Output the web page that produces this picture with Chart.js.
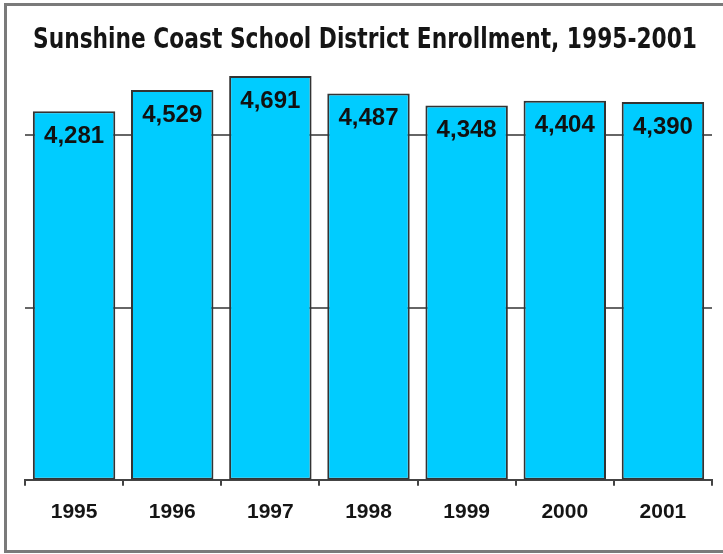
<!DOCTYPE html>
<html>
<head>
<meta charset="utf-8">
<script src="https://cdn.jsdelivr.net/npm/chart.js@4"></script>
<style>
    html, body { margin: 0; padding: 0; background: #fff; }
    #wrap { width: 723px; height: 554px; }
</style>
</head>
<body>
<div id="wrap"><canvas id="EnrollChart" width="723" height="554"></canvas></div>
<script>
const years = ['1995', '1996', '1997', '1998', '1999', '2000', '2001'];
const enrollment = [4281, 4529, 4691, 4487, 4348, 4404, 4390];
const gridValues = [2000, 4000];
const chartTitle = 'Sunshine Coast School District Enrollment, 1995-2001';

// white background + grey frame
const frame = {
    id: 'frame',
    beforeDraw(chart) {
        const c = chart.ctx;
        c.save();
        c.fillStyle = '#fff';
        c.fillRect(0, 0, chart.width, chart.height);
        c.strokeStyle = '#7a7a7a';
        c.lineWidth = 3;
        c.strokeRect(5.5, 4.5, 760, 547);
        c.restore();
    }
};

// title, squeezed to the width it has in the original
const titleText = {
    id: 'titleText',
    afterDraw(chart) {
        const c = chart.ctx;
        c.save();
        c.font = 'bold 28px "Liberation Sans Narrow", "Arial Narrow", "DejaVu Sans Condensed", sans-serif';
        c.fillStyle = '#151515';
        c.textAlign = 'center';
        c.textBaseline = 'alphabetic';
        c.fillText(chartTitle, 365, 48, 664);
        c.restore();
    }
};

// numbers written inside the top of each bar
const barValues = {
    id: 'barValues',
    afterDatasetsDraw(chart) {
        const c = chart.ctx;
        const meta = chart.getDatasetMeta(0);
        c.save();
        c.font = 'bold 24px "Liberation Sans", Arial, sans-serif';
        c.fillStyle = '#111';
        c.textAlign = 'center';
        c.textBaseline = 'middle';
        meta.data.forEach((bar, i) => {
            c.fillText(enrollment[i].toLocaleString('en-US'), bar.x, bar.y + 25);
        });
        c.restore();
    }
};

const ctx = document.getElementById('EnrollChart');
new Chart(ctx, {
    type: 'bar',
    data: {
        labels: years,
        datasets: [{
            label: 'Enrollment',
            data: enrollment,
            backgroundColor: '#00ccff',
            borderColor: '#333',
            borderWidth: 2,
            borderSkipped: false,
            barPercentage: 0.84,
            categoryPercentage: 1
        }]
    },
    options: {
        responsive: false,
        animation: false,
        layout: {
            padding: { left: 25, right: 11, top: 58, bottom: 15 }
        },
        plugins: {
            legend: { display: false },
            tooltip: { enabled: false },
            title: { display: false }
        },
        scales: {
            x: {
                grid: {
                    offset: true,
                    drawOnChartArea: false,
                    drawTicks: true,
                    tickLength: 6,
                    color: '#444',
                    lineWidth: 2
                },
                border: { display: true, color: '#444', width: 2 },
                ticks: {
                    color: '#151515',
                    padding: 14,
                    font: { family: '"Liberation Sans", Arial, sans-serif', size: 21, weight: 'bold' }
                }
            },
            y: {
                min: 0,
                max: 4900,
                ticks: { display: false },
                border: { display: false },
                grid: {
                    drawTicks: false,
                    lineWidth: 2,
                    color: '#666'
                },
                afterBuildTicks: (scale) => {
                    scale.ticks = gridValues.map(v => ({ value: v }));
                },
                afterFit: (scale) => { scale.width = 0; }
            }
        }
    },
    plugins: [frame, titleText, barValues]
});
</script>
</body>
</html>
